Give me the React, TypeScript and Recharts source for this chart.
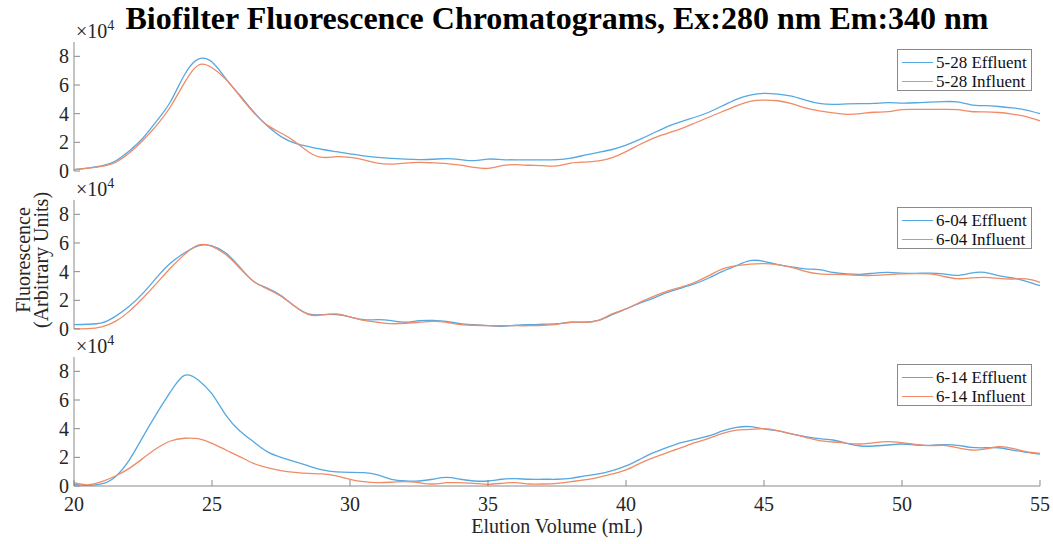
import { LineChart, Line, XAxis, YAxis, Legend } from 'recharts'

const SERIF = '"Liberation Serif", "Times New Roman", Times, serif'
const INK = '#262626'
const AXIS = '#8a8a8a'
const BLUE = '#55a8e0'
const ORANGE = '#ef8b66'

// elution volume (mL)
const volume = [
  20, 20.5, 21, 21.5, 22, 22.5, 23, 23.5, 24, 24.5, 25, 25.5, 26, 26.5, 27, 27.5, 28, 28.5, 29, 29.5,
  30, 30.5, 31, 31.5, 32, 32.5, 33, 33.5, 34, 34.5, 35, 35.5, 36, 36.5, 37, 37.5, 38, 38.5, 39, 39.5,
  40, 40.5, 41, 41.5, 42, 42.5, 43, 43.5, 44, 44.5, 45, 45.5, 46, 46.5, 47, 47.5, 48, 48.5, 49, 49.5,
  50, 50.5, 51, 51.5, 52, 52.5, 53, 53.5, 54, 54.5, 55,
]

// fluorescence, x10^4 arbitrary units
const eff528 = [
  0.1, 0.2, 0.35, 0.7, 1.4, 2.3, 3.5, 4.85, 6.7, 7.8, 7.6, 6.45, 5.3, 4.15, 3.15, 2.4, 1.95, 1.7, 1.5, 1.35,
  1.2, 1.05, 0.95, 0.88, 0.83, 0.8, 0.82, 0.87, 0.8, 0.72, 0.83, 0.8, 0.78, 0.78, 0.78, 0.8, 0.9, 1.1, 1.3, 1.5,
  1.8, 2.2, 2.65, 3.1, 3.45, 3.75, 4.1, 4.55, 5.0, 5.3, 5.42, 5.37, 5.22, 4.95, 4.72, 4.65, 4.68, 4.7, 4.72, 4.77,
  4.74, 4.76, 4.8, 4.84, 4.82, 4.62, 4.56, 4.5, 4.4, 4.25, 4.0,
]
const inf528 = [
  0.1, 0.2, 0.33, 0.6, 1.25, 2.15, 3.2, 4.5, 6.15, 7.38, 7.2, 6.4, 5.25, 4.1, 3.2, 2.65, 2.05, 1.33, 0.95, 1.0,
  0.95, 0.78, 0.55, 0.48, 0.55, 0.6, 0.57, 0.52, 0.41, 0.25, 0.18, 0.37, 0.44, 0.4, 0.37, 0.36, 0.55, 0.62, 0.7, 0.93,
  1.35, 1.85, 2.3, 2.63, 2.95, 3.35, 3.75, 4.15, 4.55, 4.86, 4.95, 4.9, 4.7, 4.4, 4.2, 4.05, 3.95, 4.0, 4.1, 4.14,
  4.28, 4.3, 4.3, 4.3, 4.28, 4.15, 4.12, 4.08, 3.97, 3.8, 3.5,
]
const eff604 = [
  0.3, 0.33, 0.42, 0.88, 1.58, 2.5, 3.6, 4.6, 5.3, 5.8, 5.8, 5.3, 4.33, 3.33, 2.86, 2.33, 1.58, 1.05, 1.0, 1.0,
  0.84, 0.65, 0.65, 0.58, 0.47, 0.58, 0.6, 0.53, 0.37, 0.3, 0.23, 0.19, 0.26, 0.3, 0.33, 0.37, 0.47, 0.47, 0.6, 1.0,
  1.4, 1.8, 2.16, 2.56, 2.86, 3.16, 3.56, 4.02, 4.42, 4.77, 4.72, 4.49, 4.33, 4.19, 4.14, 3.95, 3.84, 3.81, 3.9, 3.95,
  3.9, 3.88, 3.9, 3.84, 3.74, 3.9, 3.95, 3.72, 3.56, 3.33, 3.02,
]
const inf604 = [
  0.02, 0.02, 0.14, 0.53, 1.23, 2.16, 3.2, 4.26, 5.19, 5.86, 5.77, 5.19, 4.26, 3.33, 2.8, 2.28, 1.58, 1.0, 0.98, 1.05,
  0.84, 0.6, 0.47, 0.37, 0.4, 0.47, 0.53, 0.47, 0.3, 0.26, 0.23, 0.23, 0.23, 0.23, 0.26, 0.33, 0.47, 0.47, 0.6, 1.05,
  1.4, 1.86, 2.28, 2.65, 2.93, 3.26, 3.72, 4.19, 4.42, 4.53, 4.56, 4.49, 4.3, 4.02, 3.84, 3.81, 3.79, 3.74, 3.74, 3.79,
  3.84, 3.86, 3.84, 3.67, 3.51, 3.56, 3.6, 3.53, 3.49, 3.49, 3.26,
]
const eff614 = [
  0.12, 0.04, 0.14, 0.65, 1.8, 3.44, 5.07, 6.58, 7.72, 7.4, 6.42, 4.95, 3.86, 3.09, 2.4, 2.0, 1.7, 1.4, 1.12, 0.98,
  0.95, 0.93, 0.77, 0.47, 0.35, 0.35, 0.47, 0.6, 0.47, 0.35, 0.35, 0.47, 0.51, 0.47, 0.47, 0.47, 0.53, 0.7, 0.84, 1.07,
  1.4, 1.86, 2.33, 2.7, 3.02, 3.26, 3.49, 3.84, 4.09, 4.14, 3.98, 3.84, 3.63, 3.44, 3.3, 3.21, 2.98, 2.79, 2.79, 2.86,
  2.93, 2.86, 2.84, 2.88, 2.84, 2.7, 2.67, 2.67, 2.51, 2.35, 2.23,
]
const inf614 = [
  0.23, 0.08, 0.3, 0.7, 1.23, 1.93, 2.63, 3.14, 3.33, 3.3, 2.98, 2.51, 2.05, 1.58, 1.28, 1.07, 0.95, 0.88, 0.84, 0.7,
  0.47, 0.3, 0.23, 0.26, 0.3, 0.23, 0.14, 0.23, 0.23, 0.19, 0.12, 0.19, 0.23, 0.14, 0.14, 0.19, 0.3, 0.42, 0.6, 0.84,
  1.12, 1.58, 1.98, 2.33, 2.67, 3.02, 3.33, 3.67, 3.9, 3.95, 4.0, 3.86, 3.63, 3.4, 3.16, 3.07, 2.98, 2.93, 3.02, 3.09,
  3.02, 2.91, 2.81, 2.84, 2.67, 2.51, 2.58, 2.74, 2.63, 2.4, 2.28,
]

const xTicks = [20, 25, 30, 35, 40, 45, 50, 55]
const yTicks = [0, 2, 4, 6, 8]
const innerTicksX = [25, 30, 35, 40, 45, 50]
const innerTicksY = [2, 4, 6, 8]

const panels = [
  { top: 42, date: '5-28', eff: eff528, inf: inf528, labels: false },
  { top: 200, date: '6-04', eff: eff604, inf: inf604, labels: false },
  { top: 357, date: '6-14', eff: eff614, inf: inf614, labels: true },
]

const PAD = 2
const PLOT_H = 129
const TICK = 6
const TICK_FONT = 20

function LeftTick(p: any) {
  return (
    <g>
      <line x1={p.x} x2={p.x + TICK} y1={p.y} y2={p.y} stroke={AXIS} />
      <text x={p.x - 5} y={p.y + 7} textAnchor="end" fill={INK} fontSize={TICK_FONT} fontFamily={SERIF}>
        {p.payload.value}
      </text>
    </g>
  )
}

function RightTick(p: any) {
  return <line x1={p.x} x2={p.x - TICK} y1={p.y} y2={p.y} stroke={AXIS} />
}

function TopTick(p: any) {
  return <line x1={p.x} x2={p.x} y1={p.y} y2={p.y + TICK} stroke={AXIS} />
}

function BottomTick(p: any) {
  return (
    <g>
      <line x1={p.x} x2={p.x} y1={p.y} y2={p.y - TICK} stroke={AXIS} />
      {p.showLabel && (
        <text x={p.x} y={p.y + 25} textAnchor="middle" fill={INK} fontSize={TICK_FONT} fontFamily={SERIF}>
          {p.payload.value}
        </text>
      )}
    </g>
  )
}

function LegendBox({ payload }: any) {
  return (
    <div
      style={{
        boxSizing: 'border-box',
        width: 135,
        height: 42,
        paddingTop: 3,
        border: `1px solid ${AXIS}`,
        background: '#fff',
        fontFamily: SERIF,
        fontSize: 17,
        color: '#111',
      }}
    >
      {(payload ?? []).map((e: any) => (
        <div key={e.value} style={{ display: 'flex', alignItems: 'center', height: 19, whiteSpace: 'nowrap' }}>
          <span style={{ width: 31, marginLeft: 4, marginRight: 3, borderTop: `1.3px solid ${e.color}` }} />
          <span>{e.value}</span>
        </div>
      ))}
    </div>
  )
}

function Panel({ top, date, eff, inf, labels }: (typeof panels)[number]) {
  const rows = volume.map((v, k) => ({ v, eff: eff[k], inf: inf[k] }))
  const bottomH = labels ? 34 : 0
  const bottomPad = labels ? 0 : 12
  return (
    <div style={{ position: 'absolute', left: 0, top: top - PAD }}>
      <LineChart
        width={1053}
        height={PAD + PLOT_H + bottomH + bottomPad}
        data={rows}
        margin={{ top: PAD, right: 13, bottom: bottomPad, left: 0 }}
      >
        <XAxis
          dataKey="v"
          type="number"
          domain={[20, 55]}
          ticks={xTicks}
          interval={0}
          height={bottomH}
          tickSize={0}
          tickMargin={0}
          tickLine={false}
          axisLine={{ stroke: AXIS }}
          tick={(p: any) => <BottomTick {...p} showLabel={labels} />}
        />
        <XAxis
          xAxisId="top"
          orientation="top"
          dataKey="v"
          type="number"
          domain={[20, 55]}
          ticks={innerTicksX}
          interval={0}
          height={0}
          tickSize={0}
          tickMargin={0}
          tickLine={false}
          axisLine={{ stroke: AXIS }}
          tick={TopTick}
        />
        <YAxis
          type="number"
          domain={[0, 9]}
          ticks={yTicks}
          interval={0}
          width={74}
          tickSize={0}
          tickMargin={0}
          tickLine={false}
          axisLine={{ stroke: AXIS }}
          tick={LeftTick}
        />
        <YAxis
          yAxisId="right"
          orientation="right"
          type="number"
          domain={[0, 9]}
          ticks={innerTicksY}
          interval={0}
          width={0}
          tickSize={0}
          tickMargin={0}
          tickLine={false}
          axisLine={{ stroke: AXIS }}
          tick={RightTick}
        />
        <Legend
          layout="vertical"
          align="center"
          verticalAlign="middle"
          wrapperStyle={{ left: 897, top: PAD + 7, width: 135, height: 42 }}
          content={LegendBox}
        />
        <Line
          type="natural"
          dataKey="eff"
          name={`${date} Effluent`}
          stroke={BLUE}
          strokeWidth={1.3}
          dot={false}
          activeDot={false}
          isAnimationActive={false}
        />
        <Line
          type="natural"
          dataKey="inf"
          name={`${date} Influent`}
          stroke={ORANGE}
          strokeWidth={1.3}
          dot={false}
          activeDot={false}
          isAnimationActive={false}
        />
      </LineChart>
    </div>
  )
}

export default function App() {
  return (
    <div style={{ position: 'absolute', left: 0, top: 0, width: 1053, height: 544, background: '#fff' }}>
      <svg width={1053} height={544} style={{ position: 'absolute', left: 0, top: 0 }}>
        <text x={557} y={29} textAnchor="middle" fontFamily={SERIF} fontWeight="bold" fontSize={32} fill="#000">
          Biofilter Fluorescence Chromatograms, Ex:280 nm Em:340 nm
        </text>
        <g fontFamily={SERIF} fontSize={20} fill={INK} textAnchor="middle">
          <text transform="translate(30,260) rotate(-90)">Fluorescence</text>
          <text transform="translate(48,260) rotate(-90)">(Arbitrary Units)</text>
          <text x={557} y={533}>Elution Volume (mL)</text>
        </g>
        {panels.map((p) => (
          <text key={p.date} x={76} y={p.top - 4} fontFamily={SERIF} fontSize={20} fill={INK}>
            ×10
            <tspan dy={-8} fontSize={14}>
              4
            </tspan>
          </text>
        ))}
      </svg>
      {panels.map((p) => (
        <Panel key={p.date} {...p} />
      ))}
    </div>
  )
}
